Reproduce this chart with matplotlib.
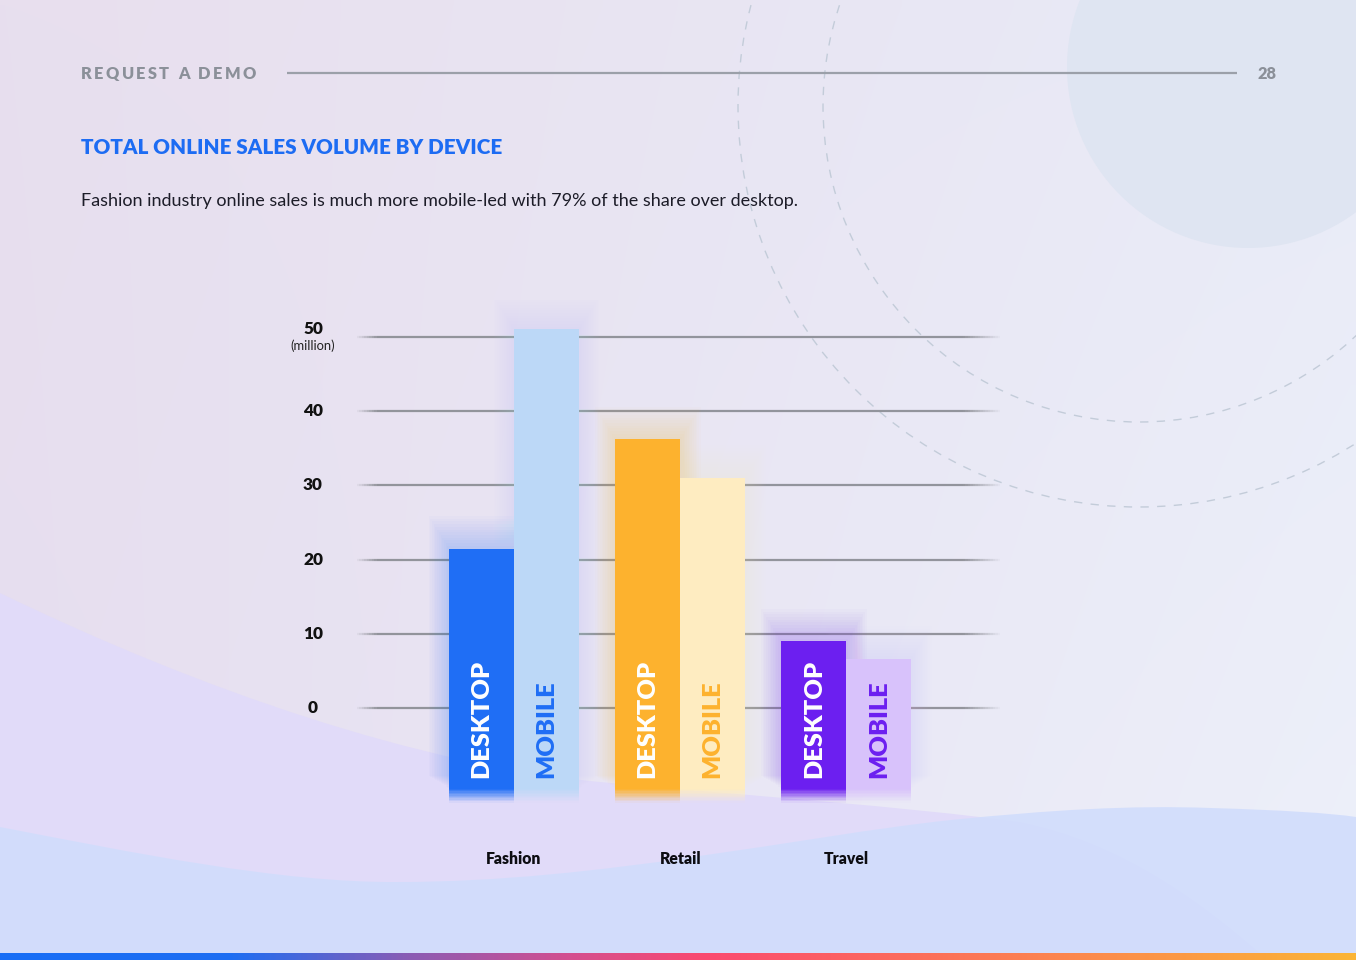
import numpy as np
import matplotlib
matplotlib.use("Agg")
import matplotlib.pyplot as plt
from matplotlib.patches import Circle, PathPatch
from matplotlib.path import Path
from matplotlib.collections import LineCollection
from matplotlib.colors import LinearSegmentedColormap, to_rgb, to_rgba
import matplotlib.transforms as mtransforms

# ---------------- data ----------------
categories = ['Fashion', 'Retail', 'Travel']
desktop = [21.5, 36.2, 9.0]
mobile = [51.0, 31.0, 6.7]
series_labels = ['DESKTOP', 'MOBILE']
yticks = [0, 10, 20, 30, 40, 50]
ytick_labels = ['0', '10', '20', '30', '40', '50']
unit_label = '(million)'
title = 'TOTAL ONLINE SALES VOLUME BY DEVICE'
subtitle = 'Fashion industry online sales is much more mobile-led with 79% of the share over desktop.'
header = 'REQUEST A DEMO'
page_no = '28'

desktop_colors = ['#1f6ef5', '#fdb22e', '#6c1ff0']
mobile_colors = ['#bcd8f7', '#feecc1', '#d8c2fb']
mobile_text_colors = ['#1f6ef5', '#fdb22e', '#6c1ff0']

FONT = 'Lato'
W, H = 1356, 960
fig = plt.figure(figsize=(W / 100, H / 100), dpi=100)
renderer = fig.canvas.get_renderer()

# ---------------- background (pixel coordinates) ----------------
bg = fig.add_axes([0, 0, 1, 1])
bg.axis('off')

yy, xx = np.mgrid[0:1:96j, 0:1:136j]
TL = np.array(to_rgb('#e8dfee'))
TR = np.array(to_rgb('#e9ebf7'))
BL = np.array(to_rgb('#e6def0'))
BR = np.array(to_rgb('#edf0fa'))
img = (TL[None, None] * ((1 - xx) * (1 - yy))[..., None] + TR[None, None] * (xx * (1 - yy))[..., None]
       + BL[None, None] * ((1 - xx) * yy)[..., None] + BR[None, None] * (xx * yy)[..., None])
bg.imshow(img, extent=[0, W, H, 0], aspect='auto', interpolation='bilinear', zorder=0)

bg.add_patch(Circle((1248, 67), 181, fc='#dfe5f2', ec='none', zorder=1))
for r in (316, 401):
    bg.add_patch(Circle((1139, 106), r, fill=False, ec='#c3ccd9', lw=1.0,
                        ls=(0, (6, 6)), zorder=2))

# lavender wave
lav_verts = [(0, 593),
             (200, 690), (420, 765), (600, 782),
             (750, 796), (900, 806), (1020, 822),
             (1120, 842), (1200, 900), (1268, 960),
             (0, 960), (0, 593)]
lav_codes = [Path.MOVETO] + [Path.CURVE4] * 9 + [Path.LINETO, Path.CLOSEPOLY]
bg.add_patch(PathPatch(Path(lav_verts, lav_codes), fc='#e1dbf9', ec='none', zorder=3))

# blue wave
blue_verts = [(0, 827),
              (130, 852), (280, 883), (398, 882),
              (600, 882), (800, 836), (951, 820),
              (1050, 810), (1130, 805), (1211, 808),
              (1280, 810), (1330, 813), (1356, 817),
              (1356, 960), (0, 960), (0, 827)]
blue_codes = [Path.MOVETO] + [Path.CURVE4] * 12 + [Path.LINETO, Path.LINETO, Path.CLOSEPOLY]
bg.add_patch(PathPatch(Path(blue_verts, blue_codes), fc='#d1ddfc', ec='none', alpha=0.9, zorder=4))

# bottom gradient strip
strip_cmap = LinearSegmentedColormap.from_list('strip', [
    (0.0, '#186df6'), (0.17, '#1e6ef2'), (0.30, '#8a5cb4'), (0.42, '#d44f8f'),
    (0.52, '#fa4a70'), (0.66, '#fd6a5d'), (0.82, '#fc8e4a'), (1.0, '#fbb536')])
bg.imshow(np.linspace(0, 1, 512)[None, :], cmap=strip_cmap, extent=[0, W, 960, 953],
          aspect='auto', zorder=6)

bg.set_xlim(0, W)
bg.set_ylim(H, 0)


def fit_width(t, target, rotated=False):
    bb = t.get_window_extent(renderer)
    w = bb.height if rotated else bb.width
    t.set_fontsize(t.get_fontsize() * target / w)


# header
bg.plot([287, 1237], [73, 73], color='#9ba0a9', lw=1.6, solid_capstyle='butt', zorder=7)
hdr_kw = dict(fontsize=11.8, fontweight='heavy', color='#8b9099', family=FONT, va='center', zorder=7)
widths = []
for ch in header:
    if ch == ' ':
        widths.append(None)
        continue
    tmp = bg.text(0, 0, ch, **hdr_kw)
    widths.append(tmp.get_window_extent(renderer).width)
    tmp.remove()
space_w = 4.0
base_total = sum(w if w is not None else space_w for w in widths)
track = (256 - 81 - base_total) / (len(header) - 1)
xpos = 81
for ch, w in zip(header, widths):
    if w is None:
        xpos += space_w + track
        continue
    bg.text(xpos, 74, ch, ha='left', **hdr_kw)
    xpos += w + track
bg.text(1267, 74, page_no, ha='center', **hdr_kw)

t = bg.text(81, 148, title, fontsize=15, fontweight='heavy', color='#1d6cf3', family=FONT,
            ha='left', va='center', zorder=7)
fit_width(t, 422)
t = bg.text(81, 201, subtitle, fontsize=12.5, color='#1c1c28', family=FONT,
            ha='left', va='center', zorder=7)
fit_width(t, 719)

# ---------------- chart axes ----------------
px_x = 166.2   # pixels per category unit
px_y = 7.43    # pixels per data unit
x0_px, y0_px = 514.0, 708.3
left_px, right_px = 354.5, 1000.0
top_px, bot_px = 300.0, 830.0
ax = fig.add_axes([left_px / W, 1 - bot_px / H, (right_px - left_px) / W, (bot_px - top_px) / H])
ax.set_facecolor('none')
ax.set_xlim((left_px - x0_px) / px_x, (right_px - x0_px) / px_x)
ax.set_ylim((y0_px - bot_px) / px_y, (y0_px - top_px) / px_y)
for s in ax.spines.values():
    s.set_visible(False)
ax.set_xticks([])
ax.set_yticks([])

# faded gridlines
xl = ax.get_xlim()
gx = np.linspace(xl[0], xl[1], 260)
gpx = left_px + (gx - xl[0]) * px_x
fade = np.clip(np.minimum((gpx - left_px) / 22.0, (right_px - gpx) / 38.0), 0, 1)
for v in yticks:
    segs = [[(gx[i], v), (gx[i + 1], v)] for i in range(len(gx) - 1)]
    cols = [to_rgba('#8e9097', 0.95 * fade[i]) for i in range(len(gx) - 1)]
    ax.add_collection(LineCollection(segs, colors=cols, linewidths=1.6, zorder=1))

# y labels
ytrans = mtransforms.blended_transform_factory(fig.transFigure, ax.transData)
ylabs = []
for v, lab in zip(yticks, ytick_labels):
    tr = ytrans
    if v == yticks[-1]:
        tr = mtransforms.offset_copy(ytrans, fig=fig, x=0, y=8, units='dots')
    tt = ax.text(313 / W, v, lab, transform=tr, ha='center', va='center', fontsize=12,
                 fontweight='heavy', color='#111111', family=FONT)
    ylabs.append(tt)
fit_width(ylabs[-1], 20)
for tt in ylabs:
    tt.set_fontsize(ylabs[-1].get_fontsize())
mt = ax.text(313 / W, yticks[-1], unit_label,
             transform=mtransforms.offset_copy(ytrans, fig=fig, x=0, y=-9, units='dots'),
             ha='center', va='center', fontsize=9, color='#222222', family=FONT)
fit_width(mt, 45)

# bars
bw = 65.0 / px_x
base = -10.8
fade_end = -12.7
x = np.arange(len(categories))
xd = x - bw / 2
xm = x + bw / 2
for vals, xs, cols in ((desktop, xd, desktop_colors), (mobile, xm, mobile_colors)):
    vals = np.asarray(vals)
    # soft glow
    for k in range(1, 13):
        padx = 1.7 * k / px_x
        pady = 1.7 * k / px_y
        ax.bar(xs, vals - base + pady, bottom=base + pady * 0.6, width=bw + 2 * padx, color=cols,
               alpha=0.018, linewidth=0, zorder=2)
    ax.bar(xs, vals - base, bottom=base, width=bw, color=cols, linewidth=0, zorder=4)
    nsl = 10
    edges = np.linspace(base, fade_end, nsl + 1)
    for j in range(nsl):
        ax.bar(xs, edges[j] - edges[j + 1], bottom=edges[j + 1], width=bw, color=cols,
               alpha=1 - (j + 0.5) / nsl, linewidth=0, zorder=4)

# labels inside bars
lab_y = (y0_px - 778) / px_y
size_d = None
for i in range(len(categories)):
    td = ax.text(xd[i], lab_y, series_labels[0], rotation=90, ha='center', va='bottom',
                 color='white', fontsize=20, fontweight='heavy', family=FONT, zorder=6)
    tm = ax.text(xm[i], lab_y, series_labels[1], rotation=90, ha='center', va='bottom',
                 color=mobile_text_colors[i], fontsize=20, fontweight='heavy', family=FONT, zorder=6)
    if size_d is None:
        fit_width(td, 118, rotated=True)
        size_d = td.get_fontsize()
    td.set_fontsize(size_d)
    tm.set_fontsize(size_d)

# category labels
ctrans = mtransforms.blended_transform_factory(ax.transData, fig.transFigure)
csize = None
for i, c in enumerate(categories):
    ct = ax.text(x[i], 1 - 859 / H, c, transform=ctrans, ha='center', va='center',
                 fontsize=12.5, fontweight='heavy', color='#0d0d12', family=FONT, clip_on=False)
    if csize is None:
        fit_width(ct, 56)
        csize = ct.get_fontsize()
    ct.set_fontsize(csize)

fig.savefig('out.png', dpi=100)
